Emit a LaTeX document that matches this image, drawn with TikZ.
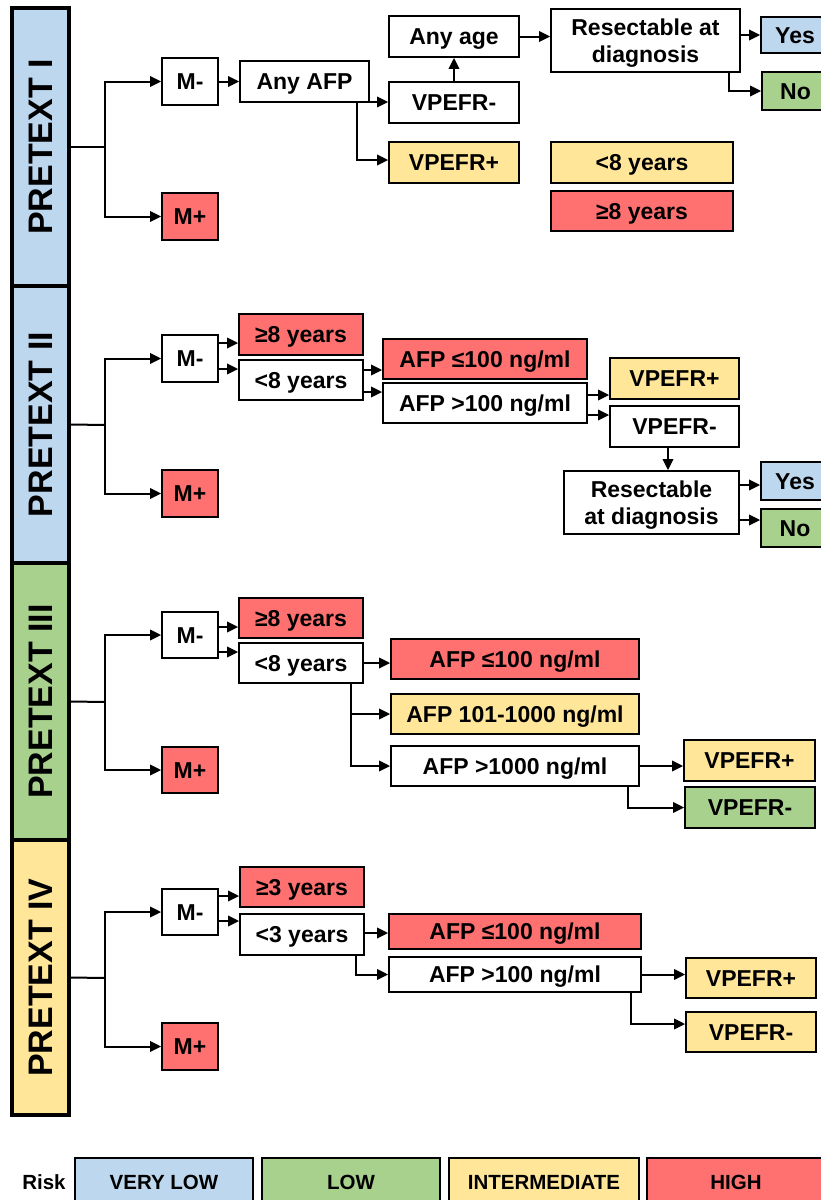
\documentclass[tikz,border=0pt]{standalone}
\usepackage{fontspec}
\setmainfont{Liberation Sans}
\usetikzlibrary{arrows.meta}
\definecolor{vlow}{HTML}{BDD7EE}
\definecolor{low}{HTML}{A9D18E}
\definecolor{inter}{HTML}{FFE699}
\definecolor{high}{HTML}{FF7171}
\newcommand\mybox[7]{%
  \pgfmathsetmacro\bxw{#4-#2}\pgfmathsetmacro\bxh{#5-#3}%
  \pgfmathsetmacro\bxx{(#2+#4)/2}\pgfmathsetmacro\bxy{(#3+#5)/2}%
  \node[#6, minimum width=\bxw pt, minimum height=\bxh pt] (#1) at (\bxx,\bxy) {#7};}
\tikzset{
  box/.style={draw=black, line width=1.8pt, fill=white, inner sep=0pt, align=center,
    text height=16.5pt, text depth=0pt,
    font=\bfseries\fontsize{23}{27}\selectfont},
  twoline/.style={text height={}, text depth=0pt},
  bar/.style={draw=black, line width=4pt, inner sep=0pt,
    font=\bfseries\fontsize{34}{40}\selectfont},
  leg/.style={draw=black, line width=1.8pt, inner sep=0pt,
    text height=14.7pt, text depth=0pt,
    font=\bfseries\fontsize{20.5}{24}\selectfont},
  ln/.style={line width=2pt},
  arr/.style={line width=2pt, -{Triangle[length=11pt,width=10.5pt]}}
}
\begin{document}
\begin{tikzpicture}[x=1pt,y=-1pt]
\useasboundingbox (0,0) rectangle (821,1200);
\clip (0,0) rectangle (821,1200);
\fill[white] (0,0) rectangle (821,1200);

% ---------- PRETEXT I ----------
\mybox{p1}{12}{8}{69}{286}{bar,fill=vlow}{\rotatebox{90}{PRETEXT I}}
\mybox{m1}{162}{58}{218}{105}{box}{M-}
\mybox{mp1}{162}{193}{218}{240}{box,fill=high}{M+}
\mybox{afp1}{240}{61}{369}{102}{box}{Any AFP}
\mybox{vm1}{389}{82}{519}{123}{box}{VPEFR-}
\mybox{vp1}{389}{142}{519}{183}{box,fill=inter}{VPEFR+}
\mybox{age1}{389}{16}{519}{57}{box}{Any age}
\mybox{res1}{551}{9}{740}{72}{box,twoline}{Resectable at\\diagnosis}
\mybox{yes1}{761}{17}{829}{53}{box,fill=vlow}{Yes}
\mybox{no1}{762}{72}{829}{110}{box,fill=low}{No}
\mybox{lt8a}{551}{142}{733}{183}{box,fill=inter}{<8 years}
\mybox{ge8a}{551}{191}{733}{231}{box,fill=high}{≥8 years}

\coordinate (j1) at (105,147);
\draw[ln] (p1.east) -- (j1);
\draw[arr] (j1) |- (m1.west);
\draw[arr] (j1) |- (mp1.west);
\draw[arr] (m1.east) -- (afp1.west);
\draw[arr] (afp1.east |- 0,102) -- (vm1.west |- 0,102);
\draw[arr] (afp1.south -| 357,0) |- (vp1.west |- 0,160);
\draw[arr] (vm1.north) -- (age1.south);
\draw[arr] (age1.east) -- (age1.east -| res1.west);
\draw[arr] (res1.east |- 0,35) -- (yes1.west |- 0,35);
\draw[arr] (res1.south -| 729,0) |- (no1.west);

% ---------- PRETEXT II ----------
\mybox{p2}{12}{286}{69}{563}{bar,fill=vlow}{\rotatebox{90}{PRETEXT II}}
\mybox{m2}{162}{335}{218}{382}{box}{M-}
\mybox{mp2}{162}{470}{218}{517}{box,fill=high}{M+}
\mybox{ge8b}{239}{314}{363}{355}{box,fill=high}{≥8 years}
\mybox{lt8b}{239}{360}{363}{400}{box}{<8 years}
\mybox{afpa2}{383}{339}{587}{379}{box,fill=high}{AFP ≤100 ng/ml}
\mybox{afpb2}{383}{383}{587}{423}{box}{AFP >100 ng/ml}
\mybox{vp2}{610}{358}{739}{399}{box,fill=inter}{VPEFR+}
\mybox{vm2}{610}{406}{739}{447}{box}{VPEFR-}
\mybox{res2}{564}{471}{739}{534}{box,twoline}{Resectable\\at diagnosis}
\mybox{yes2}{761}{462}{829}{500}{box,fill=vlow}{Yes}
\mybox{no2}{761}{509}{829}{547}{box,fill=low}{No}

\coordinate (j2) at (105,425);
\draw[ln] (p2.east) -- (j2);
\draw[arr] (j2) |- (m2.west);
\draw[arr] (j2) |- (mp2.west);
\draw[arr] (m2.east |- 0,343) -- (ge8b.west |- 0,343);
\draw[arr] (m2.east |- 0,369) -- (lt8b.west |- 0,369);
\draw[arr] (lt8b.east |- 0,370) -- (afpa2.west |- 0,370);
\draw[arr] (lt8b.east |- 0,392) -- (afpb2.west |- 0,392);
\draw[arr] (afpb2.east |- 0,395) -- (vp2.west |- 0,395);
\draw[arr] (afpb2.east |- 0,415) -- (vm2.west |- 0,415);
\draw[arr] (vm2.south -| 668,0) -- (res2.north -| 668,0);
\draw[arr] (res2.east |- 0,485) -- (yes2.west |- 0,485);
\draw[arr] (res2.east |- 0,520) -- (no2.west |- 0,520);

% ---------- PRETEXT III ----------
\mybox{p3}{12}{563}{69}{840}{bar,fill=low}{\rotatebox{90}{PRETEXT III}}
\mybox{m3}{162}{612}{218}{658}{box}{M-}
\mybox{mp3}{162}{747}{218}{793}{box,fill=high}{M+}
\mybox{ge8c}{239}{598}{363}{638}{box,fill=high}{≥8 years}
\mybox{lt8c}{239}{643}{363}{683}{box}{<8 years}
\mybox{afpa3}{391}{639}{639}{679}{box,fill=high}{AFP ≤100 ng/ml}
\mybox{afpm3}{391}{694}{639}{734}{box,fill=inter}{AFP 101-1000 ng/ml}
\mybox{afpb3}{391}{746}{639}{786}{box}{AFP >1000 ng/ml}
\mybox{vp3}{684}{740}{815}{781}{box,fill=inter}{VPEFR+}
\mybox{vm3}{685}{787}{815}{828}{box,fill=low}{VPEFR-}

\coordinate (j3) at (105,702);
\draw[ln] (p3.east) -- (j3);
\draw[arr] (j3) |- (m3.west);
\draw[arr] (j3) |- (mp3.west);
\draw[arr] (m3.east |- 0,627) -- (ge8c.west |- 0,627);
\draw[arr] (m3.east |- 0,652) -- (lt8c.west |- 0,652);
\draw[arr] (lt8c.east) -- (lt8c.east -| afpa3.west);
\draw[arr] (lt8c.south -| 351,0) |- (afpm3.west);
\draw[arr] (lt8c.south -| 351,0) |- (afpb3.west);
\draw[arr] (afpb3.east) -- (afpb3.east -| vp3.west);
\draw[arr] (afpb3.south -| 628,0) |- (vm3.west);

% ---------- PRETEXT IV ----------
\mybox{p4}{12}{840}{69}{1115}{bar,fill=inter}{\rotatebox{90}{PRETEXT IV}}
\mybox{m4}{162}{889}{218}{935}{box}{M-}
\mybox{mp4}{162}{1023}{218}{1070}{box,fill=high}{M+}
\mybox{ge3}{240}{867}{364}{907}{box,fill=high}{≥3 years}
\mybox{lt3}{240}{914}{364}{955}{box}{<3 years}
\mybox{afpa4}{389}{914}{641}{949}{box,fill=high}{AFP ≤100 ng/ml}
\mybox{afpb4}{389}{957}{641}{992}{box}{AFP >100 ng/ml}
\mybox{vp4}{686}{958}{816}{998}{box,fill=inter}{VPEFR+}
\mybox{vm4}{686}{1012}{816}{1052}{box,fill=inter}{VPEFR-}

\coordinate (j4) at (105,978);
\draw[ln] (p4.east) -- (j4);
\draw[arr] (j4) |- (m4.west);
\draw[arr] (j4) |- (mp4.west);
\draw[arr] (m4.east |- 0,896) -- (ge3.west |- 0,896);
\draw[arr] (m4.east |- 0,921) -- (lt3.west |- 0,921);
\draw[arr] (lt3.east |- 0,933) -- (afpa4.west |- 0,933);
\draw[arr] (lt3.south -| 356,0) |- (afpb4.west);
\draw[arr] (afpb4.east) -- (afpb4.east -| vp4.west);
\draw[arr] (afpb4.south -| 631,0) |- (vm4.west |- 0,1024);

% ---------- Legend ----------
\node[font=\bfseries\fontsize{20.5}{24}\selectfont, inner sep=0pt] (risk) at (44,1182) {Risk};
\mybox{lg1}{75}{1158}{253}{1206}{leg,fill=vlow}{VERY LOW}
\mybox{lg2}{262}{1158}{440}{1206}{leg,fill=low}{LOW}
\mybox{lg3}{449}{1158}{639}{1206}{leg,fill=inter}{INTERMEDIATE}
\mybox{lg4}{647}{1158}{825}{1206}{leg,fill=high}{HIGH}
\end{tikzpicture}
\end{document}
